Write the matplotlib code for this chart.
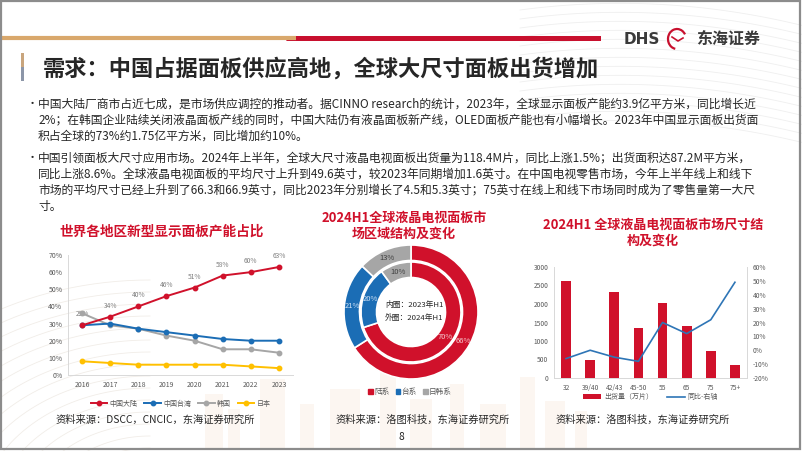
import matplotlib
matplotlib.use('Agg')
import matplotlib.pyplot as plt
import numpy as np
from matplotlib.patches import Rectangle, Polygon, Arc

plt.rcParams['font.family'] = ['Noto Sans CJK SC', 'DejaVu Sans']

# ---- data ----
years = ['2016', '2017', '2018', '2019', '2020', '2021', '2022', '2023']
mainland = [29, 34, 40, 46, 51, 58, 60, 63]
taiwan = [29, 30, 27, 25, 23, 21, 20, 20]
korea = [36, 29, 27, 23, 20, 15, 15, 13]
japan = [8, 7, 6, 6, 6, 6, 5, 4]
region_names = ['中国大陆', '中国台湾', '韩国', '日本']

ring_names = ['陆系', '台系', '日韩系']
share_2023h1 = [70, 20, 10]   # inner ring
share_2024h1 = [66, 21, 13]   # outer ring

sizes = ['32', '39/40', '42/43', '45-50', '55', '65', '75', '75+']
shipments = [2620, 495, 2330, 1345, 2020, 1395, 725, 340]   # 万片
yoy = [-6, 0, -5, -8, 20, 12, 22, 49]                         # %

bullet1 = [
    '中国大陆厂商市占近七成，是市场供应调控的推动者。据CINNO research的统计，2023年，全球显示面板产能约3.9亿平方米，同比增长近',
    '2%；在韩国企业陆续关闭液晶面板产线的同时，中国大陆仍有液晶面板新产线，OLED面板产能也有小幅增长。2023年中国显示面板出货面',
    '积占全球的73%约1.75亿平方米，同比增加约10%。',
]
bullet2 = [
    '中国引领面板大尺寸应用市场。2024年上半年，全球大尺寸液晶电视面板出货量为118.4M片，同比上涨1.5%；出货面积达87.2M平方米，',
    '同比上涨8.6%。全球液晶电视面板的平均尺寸上升到49.6英寸，较2023年同期增加1.6英寸。在中国电视零售市场，今年上半年线上和线下',
    '市场的平均尺寸已经上升到了66.3和66.9英寸，同比2023年分别增长了4.5和5.3英寸；75英寸在线上和线下市场同时成为了零售量第一大尺',
    '寸。',
]

RED = '#D0112B'
BLUE = '#1B6DB5'
GRAY = '#A6A6A6'
YELLOW = '#FFC000'
TXT = '#262626'
TICK = '#595959'

W, H = 802, 451
fig = plt.figure(figsize=(W / 100, H / 100), dpi=100)


def fx(x):
    return x / W


def fy(y):
    return 1 - y / H


def axes_px(l, t, r, b, **kw):
    return fig.add_axes([l / W, 1 - b / H, (r - l) / W, (b - t) / H], **kw)


# ---- background decoration ----
bg = axes_px(0, 0, W, H)
bg.set_xlim(0, W)
bg.set_ylim(H, 0)
bg.axis('off')
for k in range(14):
    t = np.linspace(0, 1, 60)
    xs = 520 + 300 * t
    ys = 10 + k * 9 + 60 * t ** 2 - 40 * t
    bg.plot(xs, ys, color='#EFEFEF', lw=0.6, zorder=0)
for k in range(16):
    a = np.linspace(np.pi * 1.05, np.pi * 1.5, 40)
    r = 60 + k * 12
    bg.plot(150 + r * np.cos(a) * 1.3, 520 + r * np.sin(a), color='#F1EDE8', lw=0.6, zorder=0)
for (x0, w0, h0) in [(205, 18, 55), (228, 12, 40), (260, 25, 70), (300, 14, 45), (330, 30, 60),
                     (380, 16, 80), (410, 22, 50), (450, 14, 65), (480, 26, 45), (520, 15, 72),
                     (545, 20, 48), (575, 12, 38)]:
    bg.add_patch(Rectangle((x0, 449 - h0), w0, h0, color='#FCF6F1', lw=0, zorder=0))
bg.add_patch(Rectangle((1, 1), W - 3, H - 3, fill=False, ec='#8C8C8C', lw=1.6, zorder=5))

# header line and logo
bg.plot([0, 296], [38, 38], color='#D9A86C', lw=3, solid_capstyle='butt')
bg.add_patch(Polygon([[290, 36], [601, 36], [601, 41], [286, 41]], closed=True, color='#C8102E', lw=0))
bg.text(624, 39, 'DHS', fontsize=11, fontweight='bold', color='#3A3A3A', va='center', ha='left',
        family='DejaVu Sans')
bg.add_patch(Arc((677, 39), 18, 20, theta1=100, theta2=330, color='#C8102E', lw=1.6))
bg.plot([672, 678, 683], [37, 41, 38], color='#C8102E', lw=1.2)
bg.text(696, 39, '东海证券', fontsize=11.5, fontweight='bold', color='#3A3A3A', va='center', ha='left')

# title
bg.add_patch(Rectangle((20.5, 53), 3, 14, color='#C9A57D', lw=0))
bg.add_patch(Rectangle((20.5, 67), 3, 14, color='#8C96A8', lw=0))
bg.text(43, 69, '需求：中国占据面板供应高地，全球大尺寸面板出货增加', fontsize=16, fontweight='bold',
        color=TXT, va='center', ha='left')

# bullet paragraphs
for lines, y0 in [(bullet1, 104), (bullet2, 158)]:
    bg.text(27, y0, '•', fontsize=8, color=TXT, va='center', ha='left')
    for i, ln in enumerate(lines):
        bg.text(38, y0 + i * 16, ln, fontsize=8.5, color=TXT, va='center', ha='left')

# chart titles
bg.text(162, 232, '世界各地区新型显示面板产能占比', fontsize=9.8, fontweight='bold', color=RED,
        ha='center', va='center')
bg.text(404, 218, '2024H1全球液晶电视面板市', fontsize=9.4, fontweight='bold', color=RED,
        ha='center', va='center')
bg.text(404, 234, '场区域结构及变化', fontsize=9.4, fontweight='bold', color=RED,
        ha='center', va='center')
bg.text(653, 225, '2024H1 全球液晶电视面板市场尺寸结', fontsize=9.4, fontweight='bold', color=RED,
        ha='center', va='center')
bg.text(653, 241, '构及变化', fontsize=9.4, fontweight='bold', color=RED, ha='center', va='center')

# sources and page number
bg.text(55, 420, '资料来源：DSCC，CNCIC，东海证券研究所', fontsize=7.4, color=TXT, va='center')
bg.text(336, 420, '资料来源：洛图科技，东海证券研究所', fontsize=7.4, color=TXT, va='center')
bg.text(556, 420, '资料来源：洛图科技，东海证券研究所', fontsize=7.4, color=TXT, va='center')
bg.text(401, 437, '8', fontsize=7.4, color=TXT, va='center', ha='center')

# ---- chart 1: capacity share lines ----
ax1 = axes_px(68, 255, 293, 375)
ax1.patch.set_alpha(0)
x = np.arange(len(years))
series = [mainland, taiwan, korea, japan]
colors = [RED, BLUE, GRAY, YELLOW]
for i in [3, 2, 1, 0]:
    ax1.plot(x, np.array(series[i]) / 100, color=colors[i], lw=1.4, marker='o', ms=3.2,
             label=region_names[i], zorder=3 + (3 - i))
for xi, v in zip(x, mainland):
    ax1.annotate('%d%%' % v, (xi, v / 100), xytext=(0, 5), textcoords='offset points',
                 ha='center', va='bottom', fontsize=4.8, color='#7F7F7F')
ax1.set_xlim(-0.5, len(years) - 0.5)
ax1.set_ylim(0, 0.7)
ax1.set_xticks(x)
ax1.set_xticklabels(years)
ax1.set_yticks(np.arange(0, 0.71, 0.1))
ax1.set_yticklabels(['%d%%' % v for v in range(0, 71, 10)])
ax1.tick_params(labelsize=5, colors=TICK, length=0, pad=4)
for s in ['top', 'right']:
    ax1.spines[s].set_visible(False)
for s in ['left', 'bottom']:
    ax1.spines[s].set_color('#D9D9D9')
    ax1.spines[s].set_linewidth(0.7)
h, l = ax1.get_legend_handles_labels()
idx = [l.index(n) for n in region_names]
ax1.legend([h[i] for i in idx], [l[i] for i in idx], loc='center', bbox_to_anchor=(0.5, -0.24),
           ncol=4, frameon=False, fontsize=5, handlelength=2.4, columnspacing=1.0,
           handletextpad=0.3, labelcolor=TICK)

# ---- chart 2: donut ----
R = 67
ax2 = axes_px(411 - R, 312 - R, 411 + R, 312 + R)
ring_colors = [RED, BLUE, GRAY]
ring_w = 15.5 / R
gap = 1.5 / R
_, _, t_out = ax2.pie(share_2024h1, radius=1, colors=ring_colors, startangle=90, counterclock=False,
                      autopct='%d%%', pctdistance=1 - ring_w / 2,
                      wedgeprops=dict(width=ring_w, edgecolor='white', linewidth=1.2))
r_in = 1 - ring_w - gap
_, _, t_in = ax2.pie(share_2023h1, radius=r_in, colors=ring_colors, startangle=90,
                     counterclock=False, autopct='%d%%',
                     pctdistance=(r_in - ring_w / 2) / r_in,
                     wedgeprops=dict(width=ring_w, edgecolor='white', linewidth=1.2))
lab_colors = ['#F6C9CE', '#CFE2F5', '#404040']
for ts in (t_out, t_in):
    for t, c in zip(ts, lab_colors):
        t.set_color(c)
        t.set_fontsize(5.5)
ax2.set_xlim(-1, 1)
ax2.set_ylim(-1, 1)
ax2.set_aspect('equal')
fig.text(fx(385), fy(305), '内圈：2023年H1', fontsize=5.6, color=TXT, va='center', ha='left')
fig.text(fx(385), fy(318), '外圈：2024年H1', fontsize=5.6, color=TXT, va='center', ha='left')
leg_h = [Rectangle((0, 0), 1, 1, color=c) for c in ring_colors]
fig.legend(leg_h, ring_names, loc='center', bbox_to_anchor=(fx(410), fy(392)), ncol=3, frameon=False,
           fontsize=5.5, handlelength=0.6, handleheight=0.6, handletextpad=0.2, columnspacing=0.8,
           labelcolor=TICK)

# ---- chart 3: size structure ----
ax3 = axes_px(554, 267, 747, 378)
ax3.patch.set_alpha(0)
xs = np.arange(len(sizes))
ax3.bar(xs, shipments, width=0.4, color=RED, label='出货量（万片）', zorder=2)
ax3.set_xlim(-0.5, len(sizes) - 0.5)
ax3.set_ylim(0, 3000)
ax3.set_yticks(np.arange(0, 3001, 500))
ax3.set_xticks(xs)
ax3.set_xticklabels(sizes)
ax3.tick_params(labelsize=4.8, colors=TICK, length=0, pad=4)
ax3r = ax3.twinx()
ax3r.plot(xs, np.array(yoy) / 100, color='#2E75B6', lw=1.2, label='同比-右轴', zorder=3)
ax3r.set_ylim(-0.2, 0.6)
ax3r.set_yticks(np.arange(-0.2, 0.61, 0.1))
ax3r.set_yticklabels(['%d%%' % v for v in range(-20, 61, 10)])
ax3r.tick_params(labelsize=4.8, colors=TICK, length=0, pad=4)
for a in (ax3, ax3r):
    a.spines['top'].set_visible(False)
    for s in ['left', 'right', 'bottom']:
        a.spines[s].set_color('#D9D9D9')
        a.spines[s].set_linewidth(0.7)
hb, lb = ax3.get_legend_handles_labels()
hl, ll = ax3r.get_legend_handles_labels()
ax3.legend(hb + hl, lb + ll, loc='center', bbox_to_anchor=(0.5, -0.17), ncol=2, frameon=False,
           fontsize=5, handlelength=2.6, handleheight=0.6, columnspacing=2.0, handletextpad=0.4,
           labelcolor=TICK)

fig.savefig('out.png', dpi=100)
